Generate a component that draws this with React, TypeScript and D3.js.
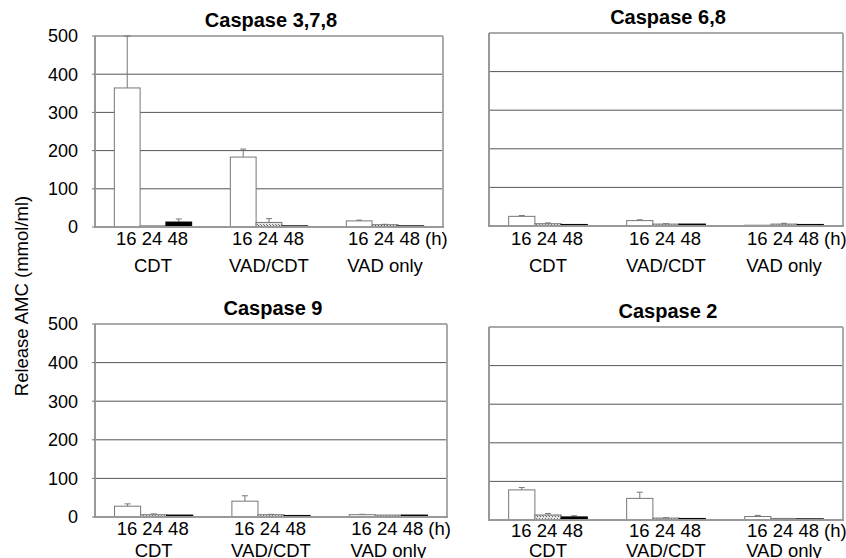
import React from 'react';
import { scaleBand, scaleLinear } from 'd3';

// data
const groups = ['CDT', 'VAD/CDT', 'VAD only'];
const hours = ['16', '24', '48'];
const yTicks = [0, 100, 200, 300, 400, 500];
const titles = ['Caspase 3,7,8', 'Caspase 6,8', 'Caspase 9', 'Caspase 2'];

const casp378Mean = [[364, 3, 13], [183, 12, 3], [16, 6, 3]];
const casp378Err = [[136, 0, 8], [21, 10, 0], [2, 1, 0]];
const casp68Mean = [[25, 6, 4], [14, 5, 5], [2, 5, 4]];
const casp68Err = [[2, 2, 0], [2, 1, 0], [0, 2, 0]];
const casp9Mean = [[28, 6, 5], [41, 6, 4], [6, 5, 5]];
const casp9Err = [[6, 2, 0], [14, 1, 0], [1, 0, 0]];
const casp2Mean = [[78, 13, 8], [56, 5, 4], [9, 4, 3]];
const casp2Err = [[6, 4, 3], [16, 1, 0], [3, 0, 0]];

const means = [casp378Mean, casp68Mean, casp9Mean, casp2Mean];
const errs = [casp378Err, casp68Err, casp9Err, casp2Err];

// panel boxes
const panels = [
  { x: 95, y: 36, w: 348, h: 191, labels: true, numDy: 18, grpDy: 45 },
  { x: 489, y: 33, w: 354, h: 193, labels: false, numDy: 19, grpDy: 46 },
  { x: 95, y: 324, w: 352, h: 193, labels: true, numDy: 18, grpDy: 40 },
  { x: 489, y: 327, w: 354, h: 193, labels: false, numDy: 17, grpDy: 37 },
];

const font = '"Liberation Sans", Arial, Helvetica, sans-serif';
const fills = ['#ffffff', 'url(#hatch)', '#000000'];

function Panel({ idx }: { idx: number }) {
  const p = panels[idx];
  const y = scaleLinear().domain([0, 500]).range([p.y + p.h, p.y]);
  const xg = scaleBand().domain(groups).range([p.x, p.x + p.w]).paddingInner(1 / 3).paddingOuter(1 / 6);
  const xh = scaleBand().domain(hours).range([0, xg.bandwidth()]);
  const m = means[idx];
  const e = errs[idx];
  const base = y(0);

  return (
    <g>
      <text x={p.x + p.w / 2 + 2} y={p.y - 9} textAnchor="middle" fontWeight="bold" fontSize={20} fontFamily={font}>
        {titles[idx]}
      </text>
      {yTicks.slice(1, -1).map(t => (
        <line key={t} x1={p.x} x2={p.x + p.w} y1={y(t)} y2={y(t)} stroke="#555" strokeWidth={1} />
      ))}
      <line x1={p.x} x2={p.x + p.w} y1={y(500)} y2={y(500)} stroke="#555" strokeWidth={1} />
      <line x1={p.x + p.w} x2={p.x + p.w} y1={p.y} y2={base} stroke="#aaa" strokeWidth={2} />
      {groups.map((g, gi) =>
        hours.map((h, hi) => {
          const bx = (xg(g) as number) + (xh(h) as number);
          const bw = xh.bandwidth();
          const v = m[gi][hi];
          const er = e[gi][hi];
          const cx = bx + bw / 2;
          return (
            <g key={g + h}>
              {er > 0 && (
                <g stroke="#777" strokeWidth={1}>
                  <line x1={cx} x2={cx} y1={y(v)} y2={y(v + er)} />
                  <line x1={cx - 3} x2={cx + 3} y1={y(v + er)} y2={y(v + er)} />
                </g>
              )}
              <rect x={bx} y={y(v)} width={bw} height={base - y(v)} fill={fills[hi]} stroke={hi === 2 ? '#000' : '#777'} strokeWidth={1} />
            </g>
          );
        })
      )}
      <line x1={p.x} x2={p.x} y1={p.y} y2={base} stroke="#999" strokeWidth={2} />
      <line x1={p.x - 1} x2={p.x + p.w + 1} y1={base} y2={base} stroke="#999" strokeWidth={2} />
      {p.labels &&
        yTicks.map(t => (
          <g key={t}>
            <line x1={p.x - 3} x2={p.x} y1={y(t)} y2={y(t)} stroke="#777" strokeWidth={1} />
            <text x={78} y={y(t)} dy="0.35em" textAnchor="end" fontSize={18} fontFamily={font}>
              {t}
            </text>
          </g>
        ))}
      {groups.map((g, gi) => {
        const c = (xg(g) as number) + xg.bandwidth() / 2;
        return (
          <g key={g} fontSize={18.5} fontFamily={font}>
            <text x={c - 1} y={base + p.numDy} textAnchor="middle">
              {hours.join(' ')}
            </text>
            {gi === groups.length - 1 && (
              <text x={c + 40} y={base + p.numDy} textAnchor="start">
                (h)
              </text>
            )}
            <text x={c} y={base + p.grpDy} textAnchor="middle">
              {g}
            </text>
          </g>
        );
      })}
    </g>
  );
}

export default function App() {
  return (
    <svg width={846} height={558} style={{ position: 'absolute', left: 0, top: 0, background: '#fff' }}>
      <defs>
        <pattern id="hatch" width={3} height={3} patternUnits="userSpaceOnUse">
          <rect width={3} height={3} fill="#e6e6e6" />
          <rect width={1} height={1} fill="#555" />
          <rect x={2} y={2} width={1} height={1} fill="#777" />
        </pattern>
      </defs>
      <rect width={846} height={558} fill="#fff" />
      <text transform="translate(28,296) rotate(-90)" textAnchor="middle" fontSize={18.5} fontFamily={font}>
        Release AMC (mmol/ml)
      </text>
      {panels.map((_, i) => (
        <Panel key={i} idx={i} />
      ))}
    </svg>
  );
}
